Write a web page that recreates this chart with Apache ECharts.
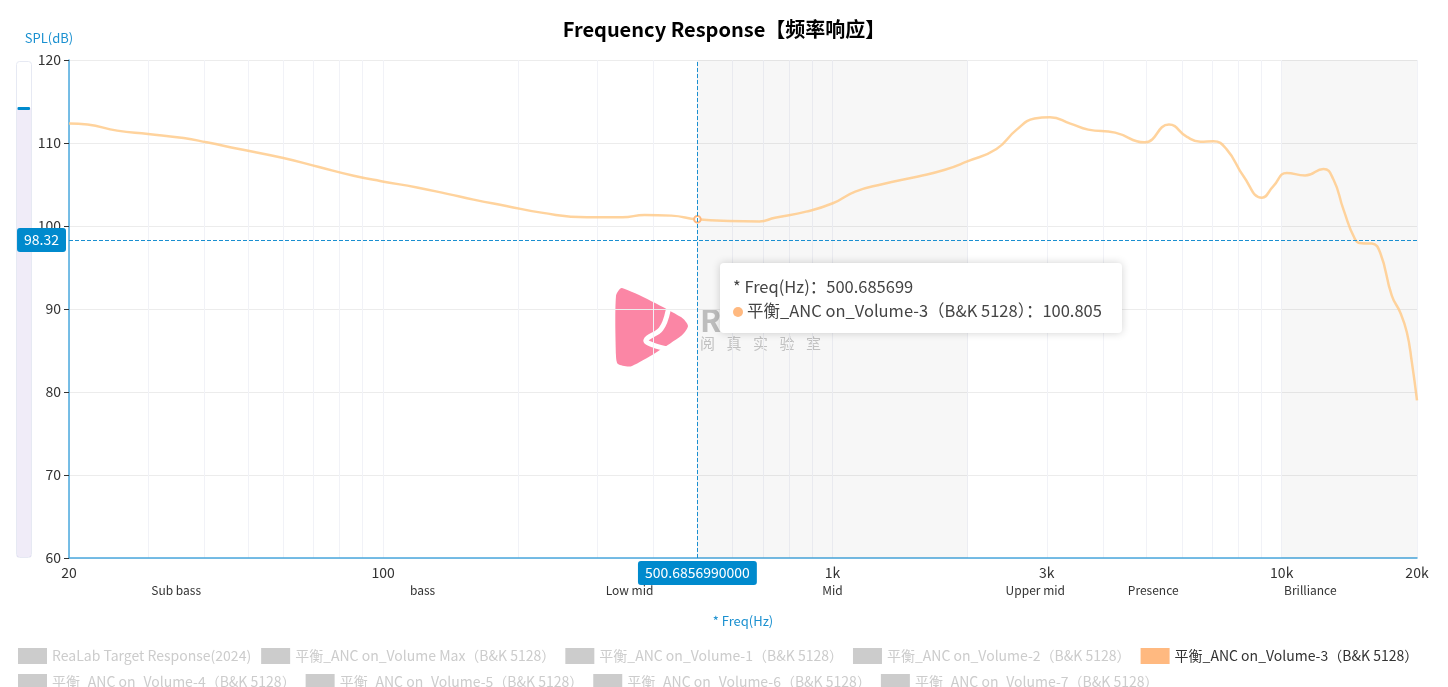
<!DOCTYPE html>
<html><head><meta charset="utf-8">
<script src="https://cdn.jsdelivr.net/npm/echarts@6/dist/echarts.min.js"></script>
<style>html,body{margin:0;padding:0;background:#fff}#c{width:1448px;height:687px}</style>
</head><body><div id="c"></div>
<script>
// ---- data ----
const freqHz = [20,22,25.6,30,36,40.5,47.5,60,72,86,99,119,139,160,188,225,284,341,382,438,500.685699,589,688,745,874,1002,1124,1290,1552,1780,1996,2318,2571,2818,3049,3385,3710,4259,4945,5611,6152,6592,7046,7549,8222,9035,9582,10263,11272,12384,13035,13718,14565,15073,15866,16556,17578,18344,18985,19478,20000];
const splDb = [112.34,112.22,111.49,111.09,110.6,110.08,109.31,108.19,107.1,106.05,105.4,104.64,103.87,103.15,102.42,101.61,101.05,101.05,101.33,101.25,100.805,100.6,100.55,101.0,101.73,102.74,104.15,105.04,105.97,106.77,107.78,109.27,111.61,112.94,113.1,112.34,111.61,111.25,110.08,112.22,110.73,110.16,110.2,109.2,106.0,103.4,104.8,106.4,106.08,106.88,105.6,102.0,98.4,97.92,97.88,96.8,91.6,89.6,87.2,83.6,79.0];
const seriesNames = [
  'ReaLab Target Response(2024)',
  '平衡_ANC on_Volume Max（B&K 5128）',
  '平衡_ANC on_Volume-1（B&K 5128）',
  '平衡_ANC on_Volume-2（B&K 5128）',
  '平衡_ANC on_Volume-3（B&K 5128）',
  '平衡_ANC on_Volume-4（B&K 5128）',
  '平衡_ANC on_Volume-5（B&K 5128）',
  '平衡_ANC on_Volume-6（B&K 5128）',
  '平衡_ANC on_Volume-7（B&K 5128）'
];
const activeSeries = '平衡_ANC on_Volume-3（B&K 5128）';
const xLabelValues = [20,100,1000,3000,10000,20000];
const xGridValues = [20,30,40,50,60,70,80,90,100,200,300,400,500,600,700,800,900,1000,2000,3000,4000,5000,6000,7000,8000,9000,10000,20000];
const bandNames = ['Sub bass','bass','Low mid','Mid','Upper mid','Presence','Brilliance'];
const bandEdges = [20,60,250,500,2000,4000,6700,20000];
const shadedBands = [[500,2000],[10000,20000]];
const yMin = 60, yMax = 120, yStep = 10;
const pointerFreq = 500.685699, pointerSpl = 98.32;

const FONT = "'Microsoft YaHei','Noto Sans CJK SC','Noto Sans',sans-serif";
const BLUE = '#008acd';

const chart = echarts.init(document.getElementById('c'));

const selected = {};
seriesNames.forEach(n => selected[n] = (n === activeSeries));

const bandAreas = bandNames.map((name, i) => [
  {name: name, xAxis: bandEdges[i], itemStyle: {color: 'rgba(0,0,0,0)'}},
  {xAxis: bandEdges[i + 1]}
]);
const shadeAreas = shadedBands.map(b => [
  {xAxis: b[0], itemStyle: {color: 'rgba(0,0,0,0.03)'}, label: {show: false}},
  {xAxis: b[1]}
]);

const lineData = freqHz.map((f, i) => [f, splDb[i]]);

const series = seriesNames.map(n => ({
  name: n, type: 'line', showSymbol: false, smooth: true,
  data: n === activeSeries ? lineData : [],
  color: n === activeSeries ? '#ffb980' : '#cccccc',
  lineStyle: {width: 2.5, opacity: 0.85}
}));
series.push({
  name: '__bands', type: 'line', data: [], silent: true,
  markArea: {
    silent: true,
    label: {show: true, position: 'bottom', distance: 26, color: '#333', fontSize: 12, fontFamily: FONT},
    data: shadeAreas.concat(bandAreas)
  }
});

// watermark decoration
const wmChars = ['阅','真','实','验','室'];
const graphics = [
  {type: 'polygon', z: -1, shape: {points: [[622,288],[681,317],[688,326],[681,336],[632,366],[618,364],[616,356],[616,296]], smooth: 0.25}, style: {fill: '#fb7fa0', opacity: 0.95}},
  {type: 'polyline', z: -1, shape: {points: [[668,311],[661,329],[646,340],[653,345],[668,349]], smooth: 0.4}, style: {stroke: '#fff', lineWidth: 5, fill: null, lineCap: 'round'}},
  {type: 'text', z: -1, left: 700, top: 305, style: {text: 'R', fill: '#c4c4c4', font: "bold 31px " + FONT}}
];
wmChars.forEach((ch, i) => graphics.push({type: 'text', z: -1, left: 700 + i * 26.5, top: 336, style: {text: ch, fill: '#c8c8c8', font: "15px " + FONT}}));
// left slider decoration
graphics.push(
  {type: 'rect', shape: {x: 16.5, y: 61.5, width: 15, height: 496, r: 3}, style: {fill: '#fff', stroke: '#e6e9f3', lineWidth: 1}},
  {type: 'rect', shape: {x: 17, y: 108, width: 14, height: 449}, style: {fill: 'rgba(182,162,222,0.2)'}},
  {type: 'rect', shape: {x: 17.5, y: 107, width: 12.5, height: 3, r: 1}, style: {fill: BLUE}}
);

const pLine = () => ({color: '#1a8fd0', type: 'dashed', width: 1});
const pLabel = () => ({
  backgroundColor: BLUE, color: '#fff', fontSize: 14, padding: [5, 7], borderRadius: 3,
  formatter: p => p.axisDimension === 'x' ? Number(p.value).toFixed(10) : Number(p.value).toFixed(2)
});

const option = {
  animation: false,
  textStyle: {fontFamily: FONT},
  title: {
    text: 'Frequency Response【频率响应】', left: 'center', top: 14,
    textStyle: {fontSize: 20, fontWeight: 'bold', color: '#000', fontFamily: FONT}
  },
  grid: {left: 69, right: 31, top: 60, bottom: 129},
  legend: {
    data: seriesNames, selected: selected, left: 13, right: 13, top: 643,
    icon: 'rect', itemWidth: 29, itemHeight: 16, itemGap: 10,
    inactiveColor: '#ccc',
    textStyle: {fontSize: 14, color: '#333', fontFamily: FONT}
  },
  tooltip: {
    trigger: 'axis', transitionDuration: 0, alwaysShowContent: true,
    backgroundColor: '#fff', borderWidth: 0, padding: [11, 20, 11, 13],
    position: point => [point[0] + 23, point[1] + 23],
    textStyle: {fontSize: 16.5, color: '#444', fontFamily: FONT},
    extraCssText: 'box-shadow:0 0 8px rgba(0,0,0,0.18);border-radius:4px;line-height:24px;',
    axisPointer: {
      type: 'cross', snap: true,
      crossStyle: pLine(),
      lineStyle: pLine(),
      label: pLabel()
    },
    formatter: params => {
      const p = params.find(q => q.seriesName === activeSeries) || params[0];
      return '* Freq(Hz)：' + p.value[0] + '<br/>' + p.marker + p.seriesName + '：' + p.value[1];
    }
  },
  xAxis: {
    type: 'log', logBase: 10, min: 20, max: 20000,
    name: '* Freq(Hz)', nameLocation: 'middle', nameGap: 57,
    nameTextStyle: {color: '#1a90d0', fontSize: 13, fontFamily: FONT},
    axisLine: {lineStyle: {color: '#4aa8de', width: 1.5}},
    axisTick: {show: false, customValues: xGridValues},
    axisLabel: {
      customValues: xLabelValues, color: '#333', fontSize: 14, margin: 8, fontFamily: FONT,
      formatter: v => v >= 1000 ? (v / 1000) + 'k' : String(v)
    },
    axisPointer: {lineStyle: pLine(), label: pLabel()},
    splitLine: {show: true, lineStyle: {color: '#f1f2f7', width: 1}}
  },
  yAxis: {
    type: 'value', min: yMin, max: yMax, interval: yStep,
    name: 'SPL(dB)', nameLocation: 'end', nameGap: 15,
    nameTextStyle: {color: '#1a90d0', fontSize: 13, padding: [0, 40, 0, 0], fontFamily: FONT},
    axisLine: {show: true, lineStyle: {color: '#4aa8de', width: 1.5}},
    axisTick: {show: true, length: 5, lineStyle: {color: '#333'}},
    axisLabel: {color: '#333', fontSize: 14, margin: 8, fontFamily: FONT},
    axisPointer: {lineStyle: pLine(), label: pLabel()},
    splitLine: {show: true, lineStyle: {color: '#ececec'}}
  },
  graphic: graphics,
  series: series
};
chart.setOption(option);

const pt = chart.convertToPixel({gridIndex: 0}, [pointerFreq, pointerSpl]);
chart.dispatchAction({type: 'showTip', x: pt[0], y: pt[1]});
</script>
</body></html>
